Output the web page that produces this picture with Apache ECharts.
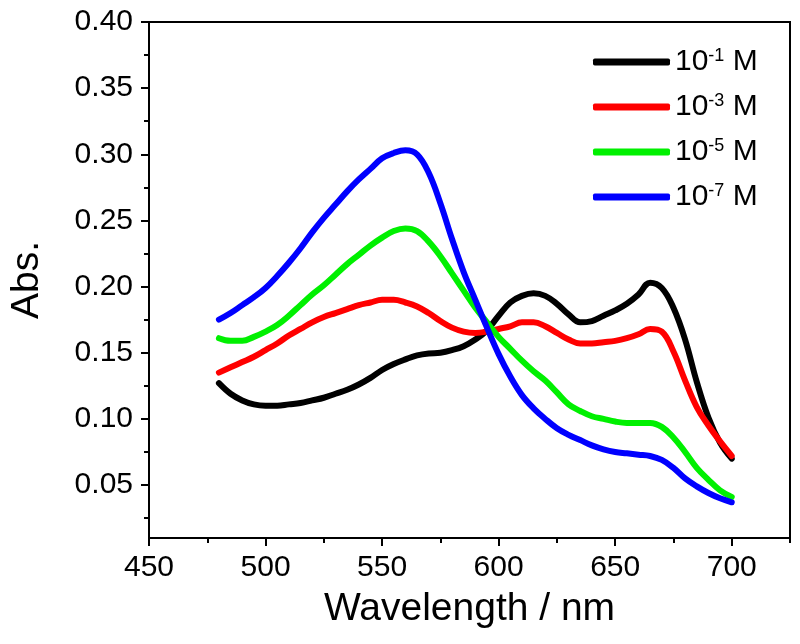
<!DOCTYPE html>
<html>
<head>
<meta charset="utf-8">
<script src="https://cdn.jsdelivr.net/npm/echarts@6/dist/echarts.min.js"></script>
<style>html,body{margin:0;padding:0;background:#fff}#c{width:800px;height:644px}</style>
</head>
<body>
<div id="c"></div>
<script>
const wavelengths = [480,485,490,495,500,505,510,515,520,525,530,535,540,545,550,555,560,565,570,575,580,585,590,595,600,605,610,615,620,625,630,635,640,645,650,655,660,665,670,675,680,685,690,695,700];
const absM1 = [0.127,0.119,0.114,0.111,0.110,0.110,0.111,0.112,0.114,0.116,0.119,0.122,0.126,0.131,0.137,0.1415,0.145,0.148,0.1495,0.150,0.152,0.155,0.160,0.167,0.178,0.188,0.193,0.195,0.193,0.187,0.179,0.173,0.174,0.178,0.182,0.187,0.194,0.203,0.199,0.184,0.160,0.128,0.101,0.082,0.070];
const absM3 = [0.135,0.139,0.143,0.147,0.152,0.157,0.163,0.168,0.173,0.177,0.180,0.183,0.186,0.188,0.190,0.190,0.188,0.185,0.180,0.174,0.169,0.166,0.165,0.166,0.168,0.170,0.173,0.173,0.170,0.165,0.160,0.157,0.157,0.158,0.159,0.161,0.164,0.168,0.166,0.151,0.129,0.109,0.095,0.083,0.072];
const absM5 = [0.161,0.159,0.159,0.162,0.166,0.171,0.178,0.186,0.194,0.201,0.209,0.217,0.224,0.231,0.237,0.242,0.244,0.242,0.234,0.223,0.210,0.197,0.184,0.173,0.162,0.153,0.144,0.136,0.129,0.120,0.111,0.106,0.102,0.100,0.098,0.097,0.097,0.097,0.094,0.086,0.075,0.063,0.054,0.046,0.041];
const absM7 = [0.175,0.180,0.186,0.192,0.199,0.208,0.218,0.229,0.241,0.252,0.262,0.272,0.281,0.289,0.297,0.301,0.303,0.300,0.286,0.263,0.236,0.211,0.190,0.169,0.149,0.132,0.118,0.108,0.100,0.093,0.088,0.084,0.080,0.077,0.075,0.074,0.073,0.072,0.069,0.063,0.055,0.049,0.044,0.040,0.037];
const seriesNames = ['10^-1 M','10^-3 M','10^-5 M','10^-7 M'];
const xMajorTicks = [450,500,550,600,650,700];
const xMinorTicks = [475,525,575,625,675,725];
const yMajorTicks = [0.05,0.10,0.15,0.20,0.25,0.30,0.35,0.40];
const yMinorTicks = [0.025,0.075,0.125,0.175,0.225,0.275,0.325,0.375];

const colors = ['#000000','#ff0000','#00f000','#0000ff'];
const allData = [absM1, absM3, absM5, absM7];
const FONT = 'Liberation Sans, Arial, sans-serif';

const chart = echarts.init(document.getElementById('c'));
const series = seriesNames.map((n, i) => ({
  name: n, type: 'line', xAxisIndex: 0, yAxisIndex: 0,
  data: wavelengths.map((w, k) => [w, allData[i][k]]),
  smooth: 0.4, showSymbol: false, symbol: 'none',
  lineStyle: {color: colors[i], width: 6, cap: 'round', join: 'round'},
  itemStyle: {color: colors[i]}
}));

chart.setOption({
  animation: false,
  grid: {left: 144, right: 10, top: 22, bottom: 106, show: true, borderColor: '#000', borderWidth: 2, backgroundColor: 'transparent'},
  legend: {
    left: 588, top: 42, orient: 'vertical', itemGap: 15,
    itemWidth: 77, itemHeight: 7, icon: 'roundRect',
    data: seriesNames,
    formatter: function (n) { const p = n.split('^'); const q = p[1].split(' '); return '10{s|' + q[0] + '} ' + q[1]; },
    textStyle: {fontFamily: FONT, fontSize: 30, color: '#000', lineHeight: 30, padding: [0,0,0,0],
      rich: {s: {fontFamily: FONT, fontSize: 18, verticalAlign: 'top', lineHeight: 18, color: '#000'}}}
  },
  xAxis: [{
    type: 'value', min: 450, max: 725, position: 'bottom',
    name: 'Wavelength / nm', nameLocation: 'middle', nameGap: 52,
    nameTextStyle: {fontFamily: FONT, fontSize: 39, color: '#000'},
    axisLine: {show: true, onZero: false, lineStyle: {color: '#000', width: 2}},
    axisTick: {show: true, inside: false, length: 8, customValues: xMajorTicks, lineStyle: {color: '#000', width: 2}},
    axisLabel: {customValues: xMajorTicks, fontFamily: FONT, fontSize: 30, color: '#000', margin: 15},
    splitLine: {show: false}
  }, {
    type: 'value', min: 450, max: 725, position: 'bottom', gridIndex: 0,
    axisLine: {show: false},
    axisTick: {show: true, inside: false, length: 5, customValues: xMinorTicks, lineStyle: {color: '#000', width: 2}},
    axisLabel: {show: false}, splitLine: {show: false}
  }],
  yAxis: [{
    type: 'value', min: 0.01, max: 0.40, position: 'left',
    name: 'Abs.', nameLocation: 'middle', nameGap: 102, nameRotate: 90,
    nameTextStyle: {fontFamily: FONT, fontSize: 39, color: '#000'},
    axisLine: {show: true, onZero: false, lineStyle: {color: '#000', width: 2}},
    axisTick: {show: true, inside: false, length: 8, customValues: yMajorTicks, lineStyle: {color: '#000', width: 2}},
    axisLabel: {customValues: yMajorTicks, fontFamily: FONT, fontSize: 30, color: '#000', margin: 16,
      formatter: v => v.toFixed(2)},
    splitLine: {show: false}
  }, {
    type: 'value', min: 0.01, max: 0.40, position: 'left',
    axisLine: {show: false},
    axisTick: {show: true, inside: false, length: 5, customValues: yMinorTicks, lineStyle: {color: '#000', width: 2}},
    axisLabel: {show: false}, splitLine: {show: false}
  }],
  series: series
});
</script>
</body>
</html>
